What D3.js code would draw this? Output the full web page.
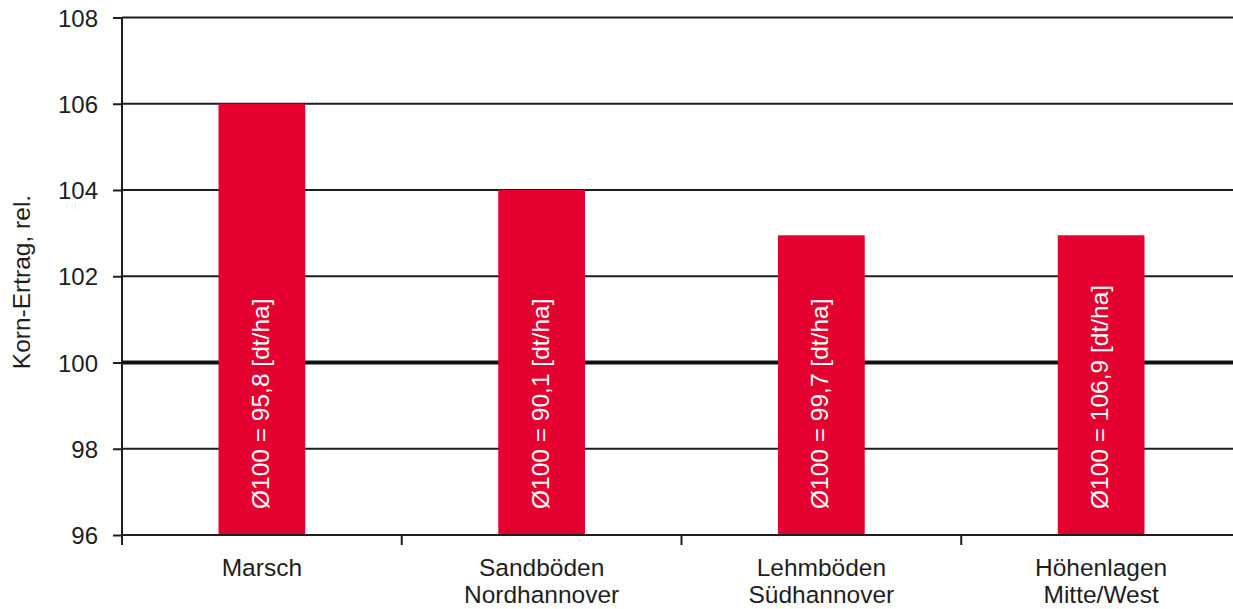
<!DOCTYPE html>
<html>
<head>
<meta charset="utf-8">
<script src="https://cdn.jsdelivr.net/npm/d3@7"></script>
<style>
  html, body { margin: 0; padding: 0; background: #fff; }
  svg { display: block; font-family: "Liberation Sans", Arial, sans-serif; }
</style>
</head>
<body>
<svg id="chart" width="1233" height="609"></svg>
<script>
// ---- data ----
const categories = [["Marsch"], ["Sandböden", "Nordhannover"], ["Lehmböden", "Südhannover"], ["Höhenlagen", "Mitte/West"]];
const values = [106.0, 104.0, 102.95, 102.95];
const barLabels = ["Ø100 = 95,8 [dt/ha]", "Ø100 = 90,1 [dt/ha]", "Ø100 = 99,7 [dt/ha]", "Ø100 = 106,9 [dt/ha]"];
const yTicks = [96, 98, 100, 102, 104, 106, 108];
const yTitle = "Korn-Ertrag, rel.";

(function () {
// ---- layout ----
const svg = d3.select("#chart");
const mLeft = 122, mRight = 1241, mTop = 17.5, mBottom = 535;
const red = "#e4002f", ink = "#1e1e1e";

const keys = categories.map((c, i) => i);
const x = d3.scaleBand().domain(keys).range([mLeft, mRight]).paddingInner(0.69).paddingOuter(0.345);
const xb = d3.scaleBand().domain(keys).range([mLeft, mRight]).padding(0);
const y = d3.scaleLinear().domain([96, 108]).range([mBottom, mTop]);

// gridlines
svg.append("g").selectAll("line")
  .data(yTicks.filter(t => t !== 96))
  .join("line")
  .attr("x1", mLeft).attr("x2", mRight)
  .attr("y1", d => y(d)).attr("y2", d => y(d))
  .attr("stroke", d => d === 100 ? "#111" : ink)
  .attr("stroke-width", d => d === 100 ? 4 : 2);

// bars
svg.append("g").selectAll("rect")
  .data(values)
  .join("rect")
  .attr("x", (d, i) => x(i))
  .attr("width", x.bandwidth())
  .attr("y", d => y(d))
  .attr("height", d => y(96) - y(d))
  .attr("fill", red);

// bar labels
svg.append("g").selectAll("text")
  .data(barLabels)
  .join("text")
  .attr("transform", (d, i) => `translate(${x(i) + x.bandwidth() / 2 + 7},${mBottom - 26}) rotate(-90)`)
  .attr("text-anchor", "start")
  .attr("fill", "#fff")
  .attr("font-size", 24.5)
  .text(d => d);

// y axis
const yAxis = d3.axisLeft(y).tickValues(yTicks).tickSize(9).tickPadding(15).tickFormat(d3.format("d"));
const gy = svg.append("g").attr("transform", `translate(${mLeft},0)`).call(yAxis);
gy.select(".domain").attr("stroke", ink).attr("stroke-width", 2).attr("d", `M0,${mTop}V${mBottom}`);
gy.selectAll(".tick line").attr("stroke", ink).attr("stroke-width", 2);
gy.selectAll(".tick text").attr("fill", ink).attr("font-size", 24).attr("font-family", "Liberation Sans, Arial, sans-serif").attr("dy", "0.36em");

// x axis
const xAxis = d3.axisBottom(xb).tickSize(0).tickFormat("");
const gx = svg.append("g").attr("transform", `translate(0,${mBottom})`).call(xAxis);
gx.select(".domain").attr("stroke", ink).attr("stroke-width", 2).attr("d", `M${mLeft},0H${mRight}`);
gx.selectAll(".tick").remove();
gx.selectAll(".sep")
  .data(keys)
  .join("line")
  .attr("class", "sep")
  .attr("x1", d => xb(d)).attr("x2", d => xb(d))
  .attr("y1", 0).attr("y2", 10)
  .attr("stroke", ink).attr("stroke-width", 2);

// category labels
const cl = svg.append("g").selectAll("text")
  .data(categories)
  .join("text")
  .attr("text-anchor", "middle")
  .attr("fill", ink)
  .attr("font-size", 24.5)
  .attr("x", (d, i) => x(i) + x.bandwidth() / 2)
  .attr("y", 576);
cl.selectAll("tspan")
  .data(d => d)
  .join("tspan")
  .attr("x", function () { return d3.select(this.parentNode).attr("x"); })
  .attr("dy", (d, j) => j === 0 ? 0 : 27)
  .text(d => d);

// y title
svg.append("text")
  .attr("transform", `translate(30,282) rotate(-90)`)
  .attr("text-anchor", "middle")
  .attr("fill", ink)
  .attr("font-size", 24.5)
  .text(yTitle);
})();
</script>
</body>
</html>
